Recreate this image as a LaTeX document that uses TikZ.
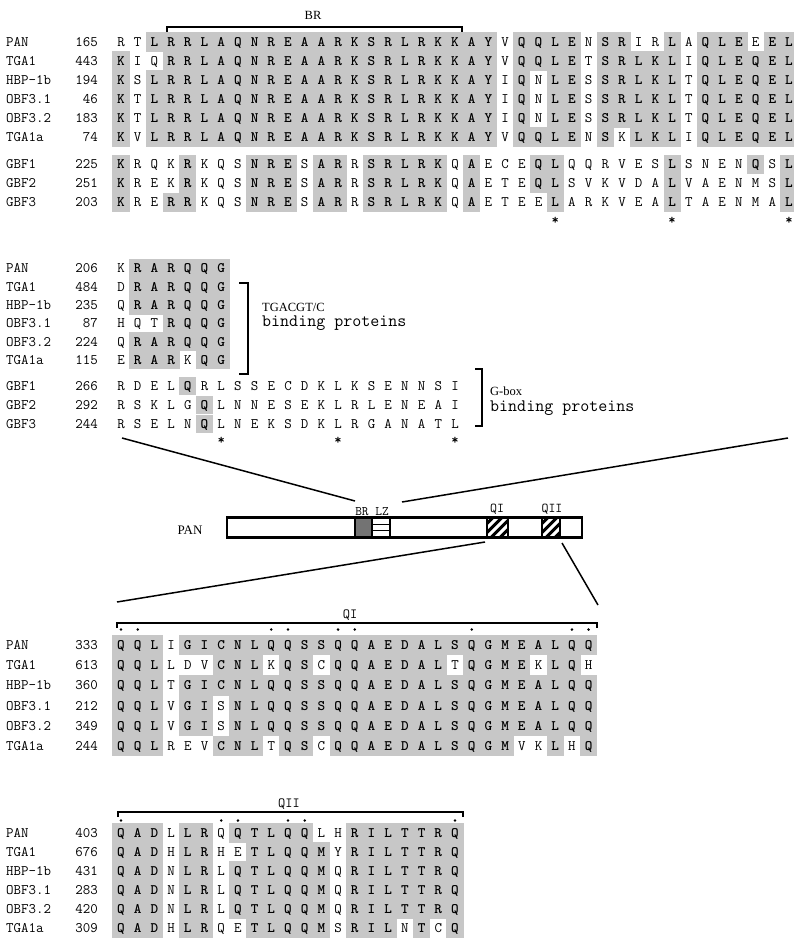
\documentclass[tikz,border=0pt]{standalone}
\usepackage{fontspec}
\newfontfamily\serfont{Liberation Serif}
\newcommand\seqfont{\ttfamily}
\definecolor{shadecol}{gray}{0.78}
\newcount\rescol
\def\xa{121}
\def\dx{16.7}
\def\hh{9.5}
\tikzset{
  resn/.style={font=\seqfont\fontsize{14.5}{14.5}\selectfont, inner sep=0pt, anchor=base, yshift=-4.4pt},
  resb/.style={font=\seqfont\bfseries\fontsize{14.5}{14.5}\selectfont, inner sep=0pt, anchor=base, yshift=-4.4pt},
  namest/.style={font=\seqfont\fontsize{14.5}{14.5}\selectfont, inner sep=0pt, anchor=base west, yshift=-4.4pt},
  numst/.style={font=\seqfont\fontsize{14.5}{14.5}\selectfont, inner sep=0pt, anchor=base east, yshift=-4.4pt},
  astst/.style={font=\seqfont\bfseries\fontsize{14}{14}\selectfont, inner sep=0pt, anchor=base},
  serlab/.style={font=\serfont\fontsize{12.5}{12.5}\selectfont, inner sep=0pt},
  monolab/.style={font=\seqfont\fontsize{14}{14}\selectfont, inner sep=0pt},
  bigmono/.style={font=\seqfont\fontsize{17.5}{17.5}\selectfont, inner sep=0pt},
  brk/.style={line width=1.4pt},
  conn/.style={line width=1.5pt},
  qdot/.style={fill=black}
}
\def\resloop#1{\ifx\relax#1\else\doRes{#1}\expandafter\resloop\fi}
\def\doRes#1{%
  \pgfmathsetmacro\cx{\xa+\the\rescol*\dx}%
  \ifnum\lccode`#1=`#1\relax
    \node[resn] (r\rowid-\the\rescol) at (\cx,-\cury) {\uppercase{#1}};%
  \else
    \fill[shadecol] ({\cx-\dx/2-0.25},{-\cury-\hh-0.25}) rectangle ({\cx+\dx/2+0.25},{-\cury+\hh+0.25});%
    \node[resb] (r\rowid-\the\rescol) at (\cx,-\cury) {#1};%
  \fi
  \global\advance\rescol by 1\relax}
\newcommand\seqrow[5]{%
  \node[namest] (n#1) at (6,-#4) {#2};%
  \node[numst] (k#1) at (98,-#4) {#3};%
  \global\rescol=0\relax
  \def\cury{#4}\def\rowid{#1}%
  \resloop#5\relax}
\begin{document}
\begin{tikzpicture}[x=1pt,y=1pt]
\fill[white] (0,0) rectangle (794,-945);
\useasboundingbox (0,0) rectangle (794,-945);

% ---------- block 1 ----------
\draw[brk] (167,-33) -- (167,-27) -- (462,-27) -- (462,-33);
\node[serlab, anchor=base] (brlab) at (313,-19.5) {BR};
\def\hh{9.5}
\seqrow{a1}{PAN}{165}{42}{rtLRRLAQNREAARKSRLRKKAYvQQLEnSRirLaQLEeEL}
\seqrow{a2}{TGA1}{443}{61}{KiqRRLAQNREAARKSRLRKKAYvQQLEtSRLKLiQLEQEL}
\seqrow{a3}{HBP-1b}{194}{80}{KsLRRLAQNREAARKSRLRKKAYiQnLEsSRLKLtQLEQEL}
\seqrow{a4}{OBF3.1}{46}{99}{KtLRRLAQNREAARKSRLRKKAYiQnLEsSRLKLtQLEQEL}
\seqrow{a5}{OBF3.2}{183}{118}{KtLRRLAQNREAARKSRLRKKAYiQnLEsSRLKLtQLEQEL}
\seqrow{a6}{TGA1a}{74}{137}{KvLRRLAQNREAARKSRLRKKAYvQQLEnSkLKLiQLEQEL}
\seqrow{a7}{GBF1}{225}{164.5}{KrqkRkqsNREsARrSRLRKqAeceQLqqrvesLsnenQsL}
\seqrow{a8}{GBF2}{251}{183.5}{KrekRkqsNREsARrSRLRKqAeteQLsvkvdaLvaenmsL}
\seqrow{a9}{GBF3}{203}{202.5}{KreRRkqsNREsARrSRLRKqAeteeLarkveaLtaenmaL}
\foreach \c in {27,34,41}
  \node[astst] (sa\c) at ({\xa+(\c-1)*\dx},-224) {*};

% ---------- block 2 ----------
\def\hh{9.2}
\seqrow{b1}{PAN}{206}{268.5}{kRARQQG}
\seqrow{b2}{TGA1}{484}{286.8}{dRARQQG}
\seqrow{b3}{HBP-1b}{235}{305.1}{qRARQQG}
\seqrow{b4}{OBF3.1}{87}{323.4}{hqtRQQG}
\seqrow{b5}{OBF3.2}{224}{341.7}{qRARQQG}
\seqrow{b6}{TGA1a}{115}{360}{eRARkQG}
\seqrow{b7}{GBF1}{266}{386}{rdelQrlssecdklksennsi}
\seqrow{b8}{GBF2}{292}{405}{rsklgQlnneseklrleneai}
\seqrow{b9}{GBF3}{244}{424}{rselnQlneksdklrganatl}
\foreach \c in {7,14,21}
  \node[astst] (sb\c) at ({\xa+(\c-1)*\dx},-444) {*};
\draw[brk] (239,-283) -- (248,-283) -- (248,-374) -- (239,-374);
\node[serlab, anchor=base west] (tga) at (262,-311.5) {TGACGT/C};
\node[bigmono, anchor=base west] (tgb) at (262,-326.5) {binding proteins};
\draw[brk] (475,-369) -- (482,-369) -- (482,-426) -- (475,-426);
\node[serlab, anchor=base west] (gba) at (490,-395) {G-box};
\node[bigmono, anchor=base west] (gbb) at (490,-411) {binding proteins};

% ---------- protein diagram ----------
\fill[black!55] (355,-517.5) rectangle (372,-537.5);
\draw[line width=1.2pt] (372,-524.2) -- (390,-524.2) (372,-530.8) -- (390,-530.8);
\begin{scope}
  \clip (487,-517.5) rectangle (508,-537.5);
  \foreach \k in {-14,-5,4,13}
    \draw[line width=3pt] (487+\k,-537.5) -- ++(20,20);
\end{scope}
\begin{scope}
  \clip (542,-517.5) rectangle (560,-537.5);
  \foreach \k in {-14,-5,4,13}
    \draw[line width=3pt] (542+\k,-537.5) -- ++(20,20);
\end{scope}
\foreach \xx in {355,372,390,487,508,542,560}
  \draw[line width=1.5pt] (\xx,-517.5) -- (\xx,-537.5);
\draw[line width=2.4pt] (227,-517.5) rectangle (582,-537.5);
\node[serlab, anchor=base, font=\serfont\fontsize{13}{13}\selectfont] (panlab) at (190,-534.5) {PAN};
\node[monolab, anchor=base, font=\seqfont\fontsize{13}{13}\selectfont] (brlz) at (372,-515) {BR LZ};
\node[monolab, anchor=base, font=\seqfont\fontsize{13.5}{13.5}\selectfont] (qilab) at (497,-512.5) {QI};
\node[monolab, anchor=base, font=\seqfont\fontsize{13.5}{13.5}\selectfont] (qiilab) at (552,-512.5) {QII};

\coordinate (c1a) at (122,-438);
\coordinate (c1b) at (355,-501);
\coordinate (c2a) at (402,-502);
\coordinate (c2b) at (788,-438);
\coordinate (c3a) at (485,-542);
\coordinate (c3b) at (117,-602);
\coordinate (c4a) at (562,-543);
\coordinate (c4b) at (598,-605);
\draw[conn] (c1a) -- (c1b);
\draw[conn] (c2a) -- (c2b);
\draw[conn] (c3a) -- (c3b);
\draw[conn] (c4a) -- (c4b);

% ---------- QI block ----------
\draw[brk] (117,-628) -- (117,-623) -- (597,-623) -- (597,-628);
\node[monolab, anchor=base] (qitop) at (350,-618.5) {QI};
\foreach \c in {1,2,10,11,14,15,22,28,29}
  \fill[qdot] ({\xa+(\c-1)*\dx},-629.5) circle (1.4);
\def\hh{10.1}
\seqrow{c1}{PAN}{333}{645}{QQLiGICNLQQSSQQAEDALSQGMEALQQ}
\seqrow{c2}{TGA1}{613}{665.2}{QQLldvCNLkQScQQAEDALtQGMEkLQh}
\seqrow{c3}{HBP-1b}{360}{685.4}{QQLtGICNLQQSSQQAEDALSQGMEALQQ}
\seqrow{c4}{OBF3.1}{212}{705.6}{QQLvGIsNLQQSSQQAEDALSQGMEALQQ}
\seqrow{c5}{OBF3.2}{349}{725.8}{QQLvGIsNLQQSSQQAEDALSQGMEALQQ}
\seqrow{c6}{TGA1a}{244}{746}{QQLrevCNLtQScQQAEDALSQGMvkLhQ}

% ---------- QII block ----------
\draw[brk] (118,-817) -- (118,-812) -- (463,-812) -- (463,-817);
\node[monolab, anchor=base] (qiitop) at (289,-807.5) {QII};
\foreach \c in {1,7,8,11,12,21}
  \fill[qdot] ({\xa+(\c-1)*\dx},-820.5) circle (1.4);
\def\hh{9.5}
\seqrow{d1}{PAN}{403}{833}{QADlLRqQTLQQlhRILTTRQ}
\seqrow{d2}{TGA1}{676}{852}{QADhLRheTLQQMyRILTTRQ}
\seqrow{d3}{HBP-1b}{431}{871}{QADnLRlQTLQQMqRILTTRQ}
\seqrow{d4}{OBF3.1}{283}{890}{QADnLRlQTLQQMqRILTTRQ}
\seqrow{d5}{OBF3.2}{420}{909}{QADnLRlQTLQQMqRILTTRQ}
\seqrow{d6}{TGA1a}{309}{928}{QADhLRqeTLQQMsRILnTcQ}
\end{tikzpicture}
\end{document}
